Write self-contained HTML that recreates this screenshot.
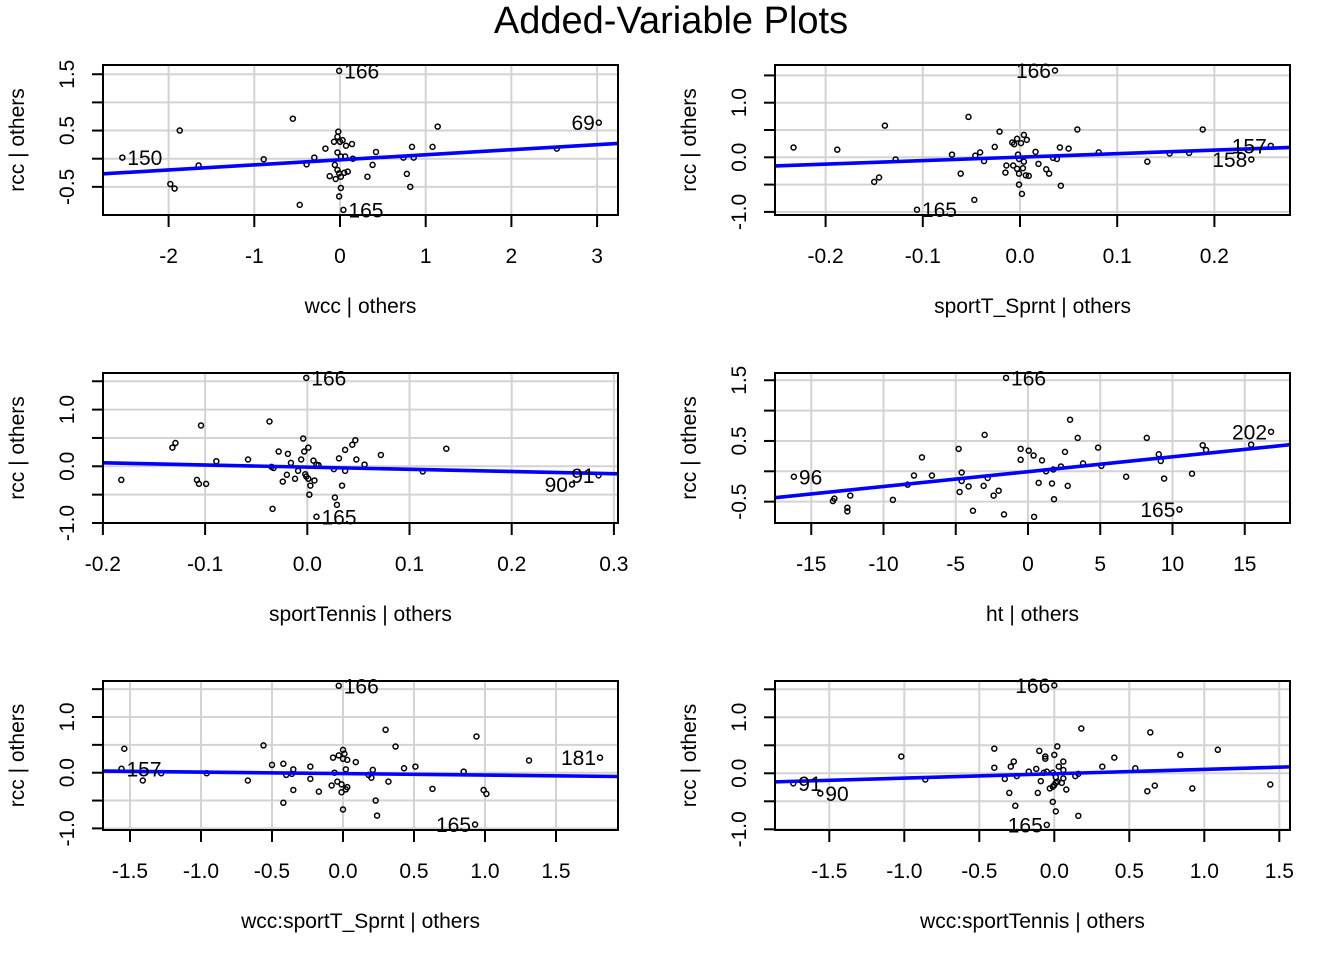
<!DOCTYPE html>
<html><head><meta charset="utf-8"><style>
html,body{margin:0;padding:0;background:#fff;}
svg{display:block;font-family:"Liberation Sans",Arial,sans-serif;}
</style></head><body>
<svg id="chart" width="1344" height="960" viewBox="0 0 1344 960" xmlns="http://www.w3.org/2000/svg">
<rect width="1344" height="960" fill="#fff"/>
<text x="671" y="33" font-size="38" text-anchor="middle" fill="#000">Added-Variable Plots</text>
</svg>
<script>
// Panel 1: wcc | others
const p1X=[-0.01,-2.54,3.02,-1.87,-1.65,-1.98,-1.93,-0.89,-0.55,-0.47,-0.39,-0.30,-0.17,-0.12,-0.05,-0.07,-0.03,-0.02,0.00,0.03,0.07,-0.03,0.01,0.06,-0.06,-0.03,-0.01,0.01,0.05,0.09,0.14,0.15,0.01,-0.01,0.04,0.32,0.38,0.42,0.74,0.78,0.82,0.84,0.86,1.08,1.14,2.53];
const p1Y=[1.56,0.02,0.64,0.50,-0.12,-0.45,-0.53,-0.01,0.71,-0.82,-0.10,0.02,0.18,-0.31,-0.36,0.30,0.39,0.48,0.30,0.33,0.23,0.11,0.04,0.04,-0.11,-0.20,-0.26,-0.32,-0.25,-0.23,0.26,0.00,-0.52,-0.67,-0.91,-0.32,-0.11,0.12,0.02,-0.27,-0.50,0.21,0.02,0.21,0.57,0.18];
const p1Fit=[-0.02,0.09];
const p1XTicks=[-2,-1,0,1,2,3];
const p1XTickLabels=["-2","-1","0","1","2","3"];
const p1YTicks=[-0.5,0,0.5,1,1.5];
const p1YTickLabels=["-0.5","","0.5","","1.5"];
const p1LabelText=["166","150","69","165"];
const p1LabelX=[-0.01,-2.54,3.02,0.04];
const p1LabelY=[1.56,0.02,0.64,-0.91];
const p1LabelSide=["r","r","l","r"];

// Panel 2: sportT_Sprnt | others
const p2X=[0.036,-0.233,-0.188,-0.139,-0.128,-0.150,-0.145,-0.106,-0.070,-0.061,-0.053,-0.047,-0.046,-0.041,-0.037,-0.026,-0.021,-0.015,-0.014,-0.008,-0.007,-0.006,-0.003,-0.002,-0.001,-0.003,-0.001,-0.001,0.001,0.002,0.003,0.004,0.004,0.007,0.006,0.009,0.016,0.019,0.027,0.030,0.034,0.038,0.041,0.042,0.050,0.059,0.081,0.131,0.154,0.174,0.188,0.238,0.258];
const p2Y=[1.59,0.18,0.14,0.58,-0.04,-0.45,-0.37,-0.96,0.05,-0.30,0.74,-0.78,0.03,0.09,-0.07,0.19,0.47,-0.28,-0.15,0.27,-0.15,0.24,0.34,0.05,-0.03,-0.21,-0.30,-0.50,0.26,-0.67,-0.20,-0.08,0.41,0.32,-0.33,-0.34,0.10,-0.12,-0.22,-0.30,-0.01,-0.03,0.18,-0.52,0.16,0.51,0.09,-0.08,0.07,0.08,0.51,-0.04,0.21];
const p2Fit=[0.003,0.64];
const p2XTicks=[-0.2,-0.1,0,0.1,0.2];
const p2XTickLabels=["-0.2","-0.1","0.0","0.1","0.2"];
const p2YTicks=[-1,-0.5,0,0.5,1,1.5];
const p2YTickLabels=["-1.0","","0.0","","1.0",""];
const p2LabelText=["166","165","157","158"];
const p2LabelX=[0.036,-0.106,0.258,0.238];
const p2LabelY=[1.59,-0.96,0.21,-0.04];
const p2LabelSide=["l","r","l","l"];

// Panel 3: sportTennis | others
const p3X=[-0.001,-0.182,-0.132,-0.129,-0.104,-0.108,-0.106,-0.099,-0.089,-0.058,-0.037,-0.035,-0.033,-0.034,-0.028,-0.024,-0.020,-0.019,-0.016,-0.012,-0.009,-0.006,-0.004,-0.003,-0.002,-0.001,0.001,0.001,0.002,0.003,0.006,0.007,0.009,0.011,0.009,0.026,0.027,0.029,0.031,0.034,0.037,0.037,0.044,0.047,0.048,0.056,0.072,0.113,0.136,0.259,0.285];
const p3Y=[1.56,-0.24,0.33,0.41,0.72,-0.24,-0.31,-0.31,0.09,0.12,0.79,-0.01,-0.03,-0.75,0.26,-0.27,-0.15,0.22,0.06,-0.22,-0.08,0.12,0.49,0.26,-0.14,-0.18,-0.22,0.33,-0.50,-0.34,0.10,-0.25,0.03,0.02,-0.89,-0.05,-0.55,-0.68,0.14,-0.34,0.29,-0.08,0.38,0.46,0.12,0.03,0.20,-0.09,0.31,-0.32,-0.16];
const p3Fit=[-0.015,-0.385];
const p3XTicks=[-0.2,-0.1,0,0.1,0.2,0.3];
const p3XTickLabels=["-0.2","-0.1","0.0","0.1","0.2","0.3"];
const p3YTicks=[-1,-0.5,0,0.5,1,1.5];
const p3YTickLabels=["-1.0","","0.0","","1.0",""];
const p3LabelText=["166","165","90","91"];
const p3LabelX=[-0.001,0.009,0.259,0.285];
const p3LabelY=[1.56,-0.89,-0.32,-0.16];
const p3LabelSide=["r","r","l","l"];

// Panel 4: ht | others
const p4X=[-1.52,-16.2,-13.5,-13.4,-12.5,-12.5,-12.3,-9.35,-8.33,-7.89,-7.34,-6.65,-4.80,-4.73,-4.59,-4.59,-4.11,-3.81,-3.07,-3.00,-2.79,-2.38,-2.03,-1.66,-0.51,-0.51,0.05,0.39,0.42,0.74,0.97,1.25,1.66,1.75,1.80,2.28,2.56,2.75,2.91,3.44,3.81,4.85,5.08,6.79,8.22,9.05,9.19,9.42,10.48,11.35,12.09,12.32,15.44,16.82];
const p4Y=[1.54,-0.09,-0.49,-0.45,-0.66,-0.60,-0.40,-0.47,-0.22,-0.07,0.23,-0.07,0.37,-0.34,-0.02,-0.16,-0.25,-0.65,-0.24,0.60,-0.11,-0.40,-0.32,-0.71,0.37,0.19,0.34,0.26,-0.75,-0.19,0.18,0.00,-0.20,0.03,-0.46,0.08,0.32,-0.24,0.85,0.55,0.13,0.39,0.09,-0.09,0.55,0.28,0.17,-0.12,-0.63,-0.04,0.43,0.35,0.44,0.65];
const p4Fit=[-0.006,0.0245];
const p4XTicks=[-15,-10,-5,0,5,10,15];
const p4XTickLabels=["-15","-10","-5","0","5","10","15"];
const p4YTicks=[-0.5,0,0.5,1,1.5];
const p4YTickLabels=["-0.5","","0.5","","1.5"];
const p4LabelText=["166","96","165","202"];
const p4LabelX=[-1.52,-16.2,10.48,16.82];
const p4LabelY=[1.54,-0.09,-0.63,0.65];
const p4LabelSide=["r","r","l","l"];

// Panel 5: wcc:sportT_Sprnt | others
const p5X=[-0.03,-1.56,-1.54,-1.41,-1.28,-0.96,-0.67,-0.56,-0.50,-0.42,-0.42,-0.40,-0.36,-0.35,-0.35,-0.23,-0.23,-0.17,-0.08,-0.07,-0.06,-0.04,-0.03,-0.01,-0.01,0.00,0.00,0.00,0.01,0.02,0.02,0.03,0.03,0.09,0.18,0.20,0.21,0.23,0.24,0.30,0.32,0.37,0.43,0.51,0.63,0.85,0.93,0.94,0.99,1.01,1.31,1.81];
const p5Y=[1.56,0.07,0.43,-0.14,-0.01,-0.01,-0.14,0.49,0.14,-0.54,0.16,-0.04,-0.02,0.06,-0.31,-0.11,0.11,-0.34,-0.23,0.27,0.00,-0.16,0.31,-0.35,-0.21,0.41,-0.66,0.25,0.34,0.06,-0.30,-0.26,0.23,0.19,-0.04,-0.09,0.05,-0.50,-0.77,0.77,-0.16,0.47,0.08,0.11,-0.29,0.02,-0.93,0.65,-0.31,-0.38,0.22,0.27];
const p5Fit=[-0.016,-0.027];
const p5XTicks=[-1.5,-1,-0.5,0,0.5,1,1.5];
const p5XTickLabels=["-1.5","-1.0","-0.5","0.0","0.5","1.0","1.5"];
const p5YTicks=[-1,-0.5,0,0.5,1,1.5];
const p5YTickLabels=["-1.0","","0.0","","1.0",""];
const p5LabelText=["166","157","165","181"];
const p5LabelX=[-0.03,-1.56,0.93,1.81];
const p5LabelY=[1.56,0.07,-0.93,0.27];
const p5LabelSide=["r","r","l","l"];

// Panel 6: wcc:sportTennis | others
const p6X=[0.00,-1.74,-1.56,-1.02,-0.86,-0.40,-0.40,-0.33,-0.30,-0.29,-0.27,-0.26,-0.25,-0.17,-0.12,-0.11,-0.10,-0.09,-0.07,-0.06,-0.06,-0.05,-0.05,-0.03,-0.01,-0.01,0.00,-0.01,0.00,0.01,0.02,0.01,0.01,0.02,0.03,0.05,0.06,0.06,0.06,0.08,0.14,0.16,0.16,0.18,0.32,0.40,0.54,0.62,0.64,0.67,0.84,0.92,1.09,1.44];
const p6Y=[1.57,-0.18,-0.36,0.30,-0.11,0.44,0.10,-0.10,-0.35,0.12,0.21,-0.58,-0.05,0.03,0.08,-0.35,0.40,-0.14,0.01,0.30,0.26,-0.92,0.03,-0.27,-0.51,0.01,0.33,-0.24,-0.21,-0.17,-0.15,-0.68,-0.07,0.48,0.12,-0.17,0.21,0.06,-0.09,-0.29,-0.05,-0.76,-0.01,0.80,0.12,0.28,0.09,-0.32,0.73,-0.22,0.33,-0.27,0.42,-0.20];
const p6Fit=[-0.008,0.078];
const p6XTicks=[-1.5,-1,-0.5,0,0.5,1,1.5];
const p6XTickLabels=["-1.5","-1.0","-0.5","0.0","0.5","1.0","1.5"];
const p6YTicks=[-1,-0.5,0,0.5,1,1.5];
const p6YTickLabels=["-1.0","","0.0","","1.0",""];
const p6LabelText=["166","91","90","165"];
const p6LabelX=[0.00,-1.74,-1.56,-0.05];
const p6LabelY=[1.57,-0.18,-0.36,-0.92];
const p6LabelSide=["l","r","r","l"];

const NS="http://www.w3.org/2000/svg";
const svg=document.getElementById('chart');
function mk(tag,attrs,parent){const e=document.createElementNS(NS,tag);for(const k in attrs)e.setAttribute(k,attrs[k]);(parent||svg).appendChild(e);return e;}

const FS=21;
const panels=[
 {key:'wcc',X:p1X,Y:p1Y,fit:p1Fit,xt:p1XTicks,xl:p1XTickLabels,yt:p1YTicks,yl:p1YTickLabels,lt:p1LabelText,lx:p1LabelX,ly:p1LabelY,ls:p1LabelSide,
  box:[103,65,618,215],x0:340,xs:85.7,y0:158.7,ys:56.3,title:'wcc | others'},
 {key:'sportT-Sprnt',X:p2X,Y:p2Y,fit:p2Fit,xt:p2XTicks,xl:p2XTickLabels,yt:p2YTicks,yl:p2YTickLabels,lt:p2LabelText,lx:p2LabelX,ly:p2LabelY,ls:p2LabelSide,
  box:[775,65,1290,215],x0:1020,xs:972,y0:157.3,ys:54.6,title:'sportT_Sprnt | others'},
 {key:'sportTennis',X:p3X,Y:p3Y,fit:p3Fit,xt:p3XTicks,xl:p3XTickLabels,yt:p3YTicks,yl:p3YTickLabels,lt:p3LabelText,lx:p3LabelX,ly:p3LabelY,ls:p3LabelSide,
  box:[103,373,618,523],x0:307.3,xs:1022,y0:466.3,ys:56.7,title:'sportTennis | others'},
 {key:'ht',X:p4X,Y:p4Y,fit:p4Fit,xt:p4XTicks,xl:p4XTickLabels,yt:p4YTicks,yl:p4YTickLabels,lt:p4LabelText,lx:p4LabelX,ly:p4LabelY,ls:p4LabelSide,
  box:[775,373,1290,523],x0:1028,xs:14.45,y0:471.3,ys:60.7,title:'ht | others'},
 {key:'wcc-sportT-Sprnt',X:p5X,Y:p5Y,fit:p5Fit,xt:p5XTicks,xl:p5XTickLabels,yt:p5YTicks,yl:p5YTickLabels,lt:p5LabelText,lx:p5LabelX,ly:p5LabelY,ls:p5LabelSide,
  box:[103,681,618,830],x0:343,xs:142,y0:772.7,ys:55.7,title:'wcc:sportT_Sprnt | others'},
 {key:'wcc-sportTennis',X:p6X,Y:p6Y,fit:p6Fit,xt:p6XTicks,xl:p6XTickLabels,yt:p6YTicks,yl:p6YTickLabels,lt:p6LabelText,lx:p6LabelX,ly:p6LabelY,ls:p6LabelSide,
  box:[775,681,1290,830],x0:1054.3,xs:150,y0:773.3,ys:56,title:'wcc:sportTennis | others'}
];

panels.forEach(p=>{
  const [L,T,R,B]=p.box;
  const sx=v=>p.x0+v*p.xs, sy=v=>p.y0-v*p.ys;
  const g=mk('g',{});
  
  
  const clipId='clip-'+p.key;
  const cp=mk('clipPath',{id:clipId},g); mk('rect',{x:L,y:T,width:R-L,height:B-T},cp);
  const grid=mk('g',{'clip-path':'url(#'+clipId+')'},g);
  
  
  p.xt.forEach(v=>mk('line',{x1:sx(v),x2:sx(v),y1:T,y2:B,stroke:'#d3d3d3','stroke-width':2},grid));
  p.yt.forEach(v=>mk('line',{x1:L,x2:R,y1:sy(v),y2:sy(v),stroke:'#d3d3d3','stroke-width':2},grid));
  const pts=mk('g',{'clip-path':'url(#'+clipId+')'},g);
  p.X.forEach((xv,i)=>{
    const c=mk('circle',{cx:sx(xv),cy:sy(p.Y[i]),r:2.5,fill:'none',stroke:'#000','stroke-width':1.5},pts);
    
    
  });
  const xa=(L-p.x0)/p.xs, xb=(R-p.x0)/p.xs;
  const fl=mk('line',{x1:sx(xa),y1:sy(p.fit[0]+p.fit[1]*xa),x2:sx(xb),y2:sy(p.fit[0]+p.fit[1]*xb),stroke:'#0000ff','stroke-width':3.6,'clip-path':'url(#'+clipId+')'},g);
  
  
  p.lt.forEach((t,i)=>{
    const px=sx(p.lx[i]), py=sy(p.ly[i]);
    const right=p.ls[i]==='r';
    const tx=mk('text',{x:right?px+5:px-4,y:py+7.5,'font-size':FS,'text-anchor':right?'start':'end',fill:'#000'},g);
    tx.textContent=t;
    
    
  });
  mk('rect',{x:L,y:T,width:R-L,height:B-T,fill:'none',stroke:'#000','stroke-width':2},g);
  const xa_g=mk('g',{},g);
  
  
  p.xt.forEach((v,i)=>{
    mk('line',{x1:sx(v),x2:sx(v),y1:B,y2:B+12,stroke:'#000','stroke-width':2},xa_g);
    const t=mk('text',{x:sx(v),y:B+48,'font-size':FS,'text-anchor':'middle',fill:'#000'},xa_g);
    t.textContent=p.xl[i];
    
    
  });
  const xt=mk('text',{x:(L+R)/2,y:B+98,'font-size':FS,'text-anchor':'middle',fill:'#000'},g);
  xt.textContent=p.title;
  
  
  const ya_g=mk('g',{},g);
  
  
  p.yt.forEach((v,i)=>{
    mk('line',{x1:L-11,x2:L,y1:sy(v),y2:sy(v),stroke:'#000','stroke-width':2},ya_g);
    if(p.yl[i]){
      const t=mk('text',{x:0,y:0,'font-size':FS,'text-anchor':'middle',fill:'#000',transform:'translate('+(L-29)+','+sy(v)+') rotate(-90)'},ya_g);
      t.textContent=p.yl[i];
      
      
    }
  });
  const yt=mk('text',{x:0,y:0,'font-size':FS,'text-anchor':'middle',fill:'#000',transform:'translate('+(L-79)+','+((T+B)/2)+') rotate(-90)','xml:space':'preserve'},g);
  yt.textContent='rcc  | others';
  
  
});
</script>
</body></html>
